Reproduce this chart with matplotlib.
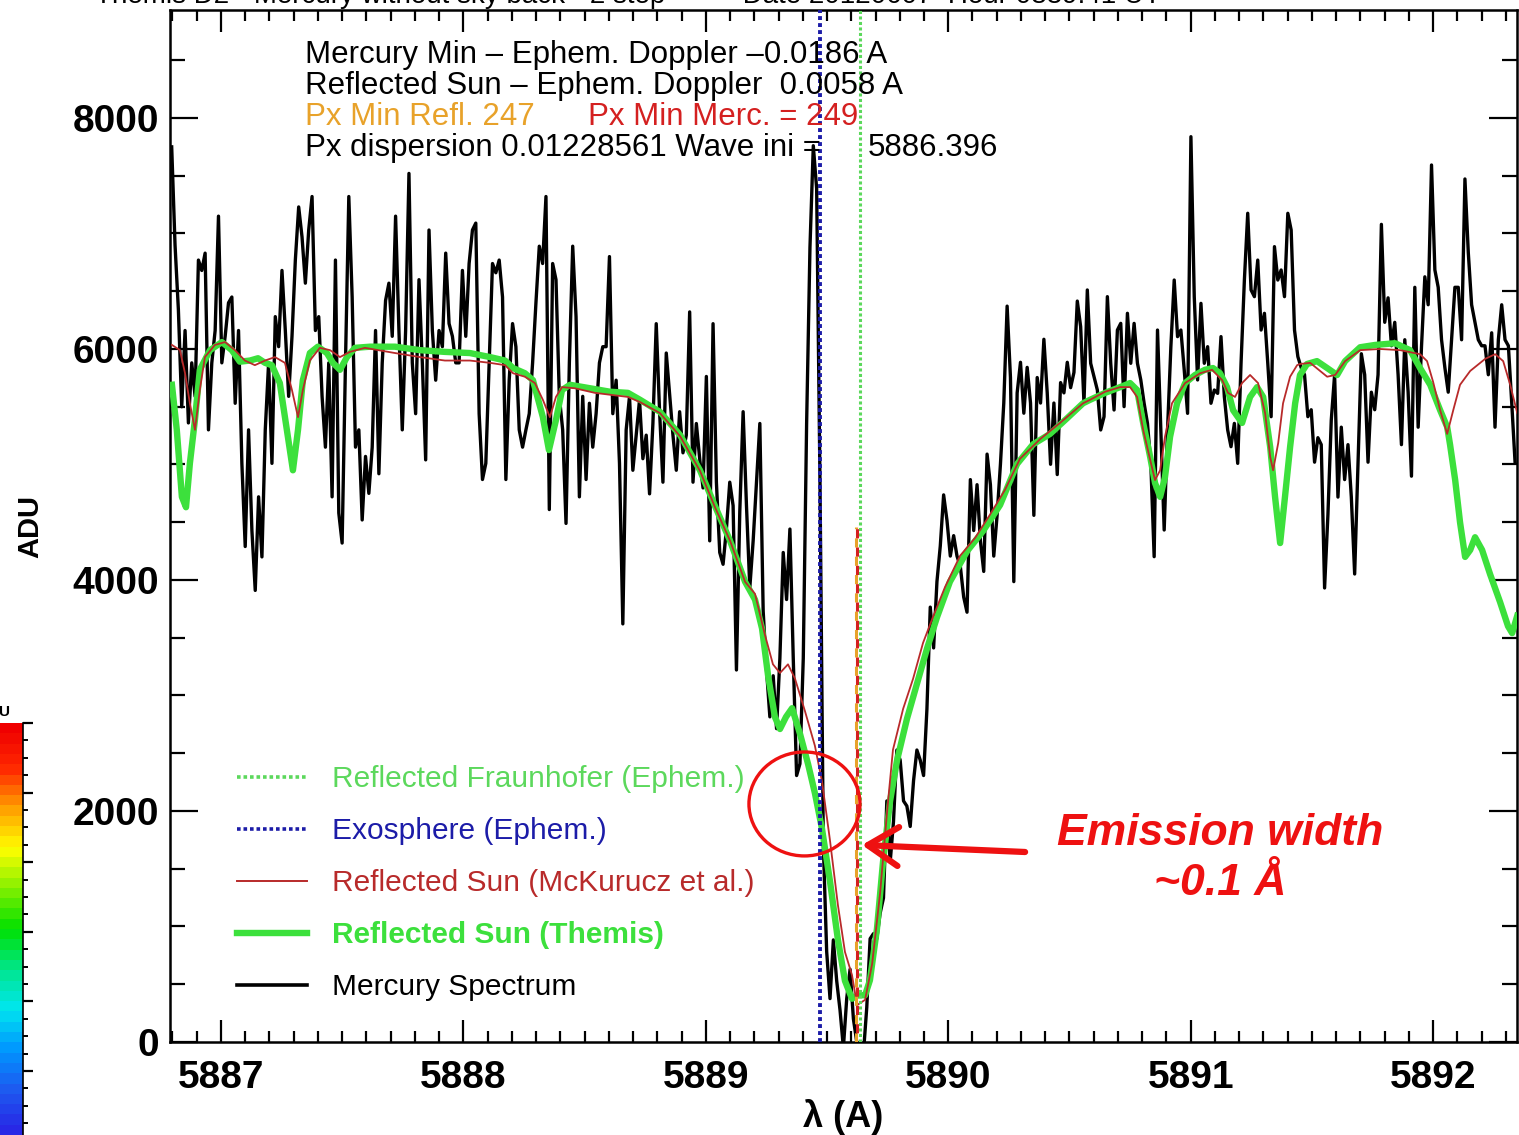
import numpy as np
import matplotlib
matplotlib.use("Agg")
import matplotlib.pyplot as plt
from matplotlib.patches import Ellipse
from matplotlib.lines import Line2D
from matplotlib.colors import LinearSegmentedColormap
from matplotlib.ticker import MultipleLocator

plt.rcParams["font.family"] = ["Liberation Sans", "DejaVu Sans"]

# ---- data ----
# Mercury spectrum (ADU), evenly spaced in wavelength
MERC_LAM_FIRST, MERC_LAM_LAST = 5886.797, 5892.338
mercury_adu = [
    7750, 6900, 6340, 5500, 6160, 5360, 5880, 5590, 6770, 6680,
    6830, 5300, 5880, 6160, 7150, 5880, 6110, 6400, 6450, 5530,
    6160, 5010, 4290, 5300, 4430, 3910, 4720, 4200, 5300, 5880,
    5010, 6280, 6020, 6680, 6160, 5590, 6110, 6770, 7230, 6970,
    6570, 7030, 7320, 6160, 6280, 5590, 5150, 5880, 4720, 6770,
    4580, 4320, 5880, 7320, 6450, 5150, 5300, 4520, 5070, 4750,
    5150, 6160, 4920, 5880, 6420, 6570, 6110, 7150, 6160,
    5300, 6160, 7520, 5880, 5440, 6600, 5880, 5040, 7030, 6160,
    5730, 6160, 6020, 6830, 6220, 6110, 5880, 5880, 6680, 6110,
    6740, 7030, 7090, 5440, 4870, 5010, 5880, 6740, 6660, 6770,
    6450, 4870, 5730, 6220, 6020, 5300, 5150, 5300, 5440, 5880,
    6400, 6890, 6740, 7320, 4610, 6740, 6600, 5590, 5300, 4490,
    5880, 6890, 6280, 4720, 5590, 4870, 5530, 5150, 5440, 5880,
    6020, 6020, 6800, 5440, 5730, 5010, 3620, 5300, 5590,
    4950, 5254, 5559, 5050, 5254, 4746, 5355, 6219, 5457, 4847,
    5965, 5610, 5254, 4950, 5457, 5101, 5254, 6321, 4847, 5355,
    5050, 4797, 5762, 4339, 6219, 4847, 4238, 4136, 4441, 4847,
    4644, 3221, 4593, 5457, 4644, 3933, 4339, 4847, 5355, 3730,
    3221, 2815, 3171, 2713, 3323, 4238, 3831, 4441, 3323, 2307,
    2409, 3323, 5355, 6880, 7760, 7388, 4847, 1700, 783, 376,
    884, 529, 275, -50, 376, 630,
    200, 0, -150, -100, 300, 894, 938, 894, 1115, 1247,
    2087, 1557, 1910, 2528, 2440, 2087, 2043, 1866, 2263, 2528,
    2440, 2307, 2882, 3765, 3412, 3986, 4295, 4737, 4516, 4207,
    4384, 4207, 4118, 3853, 3721, 4869, 4428, 4825, 4340, 4074,
    5090, 4825, 4207, 4560, 5002, 5532, 6371, 5753, 3986, 5620,
    5885, 5444, 5841, 5532, 4560, 5753, 5532, 6084, 5620, 5002,
    5532, 4913, 5709, 5620, 5885, 5665, 5797, 6415, 6194, 5532,
    6511, 5876, 5760, 5645, 5299, 5414, 6453, 5876, 5472, 6164,
    6222, 5501, 6309, 5876, 6222, 5876, 5732, 5530, 5356, 5010,
    4202, 6164, 5299, 4433, 5299, 6020, 6597, 6107, 6164, 5818,
    5443, 7838, 6453, 5732, 6395, 5876, 6020, 5530, 5645, 5616,
    6107, 5587, 5299, 5154, 5356, 5010, 5876, 6597, 7175, 6511,
    6453, 6770, 6164, 6309, 5876, 5414, 6886, 6597, 6684, 6453,
    7175, 7030, 6164, 5934,
    5838, 5777, 5414, 5474, 5020, 5232, 5172, 3931, 4566, 5384,
    5777, 4718, 5323, 4869, 5172, 4718, 4052, 5020, 5959, 5777,
    5020, 5626, 5474, 5777, 7079, 6231, 6443, 6028, 6231, 5777,
    5172, 6080, 5626, 4899, 6534, 5323, 6019, 6625, 6383, 7593,
    6685, 6534, 6080, 5838, 5626, 6080, 6534, 6534, 6080, 7472,
    6837, 6383, 6231, 6080, 6028, 6028, 5777, 6140, 5323, 6080,
    6383, 6080, 6028, 5535, 5020,
]

# Reflected Sun (Themis)
themis_lam = [
    5886.798, 5886.818, 5886.839, 5886.856, 5886.872, 5886.893, 5886.913, 5886.955,
    5887.004, 5887.045, 5887.078, 5887.120, 5887.153, 5887.182, 5887.210, 5887.243,
    5887.272, 5887.297, 5887.318, 5887.338, 5887.367, 5887.400, 5887.437, 5887.462,
    5887.491, 5887.520, 5887.553, 5887.615, 5887.718, 5887.821, 5887.924, 5888.027,
    5888.110, 5888.172, 5888.205, 5888.254, 5888.287, 5888.328, 5888.353, 5888.382,
    5888.407, 5888.440, 5888.522, 5888.605, 5888.679, 5888.729, 5888.811, 5888.894,
    5888.976, 5889.038, 5889.100, 5889.162, 5889.203, 5889.232, 5889.257, 5889.285,
    5889.306, 5889.331, 5889.356, 5889.389, 5889.422, 5889.450, 5889.479, 5889.512,
    5889.545, 5889.574, 5889.603, 5889.628, 5889.657, 5889.677, 5889.706, 5889.731,
    5889.760, 5889.789, 5889.830, 5889.871, 5889.913, 5889.954, 5890.007, 5890.078,
    5890.144, 5890.214, 5890.284, 5890.350, 5890.420, 5890.490, 5890.556, 5890.585,
    5890.647, 5890.709, 5890.750, 5890.779, 5890.804, 5890.833, 5890.853, 5890.874,
    5890.894, 5890.915, 5890.944, 5890.977, 5891.018, 5891.059, 5891.092, 5891.121,
    5891.150, 5891.175, 5891.212, 5891.245, 5891.274, 5891.299, 5891.328, 5891.348,
    5891.369, 5891.389, 5891.410, 5891.431, 5891.451, 5891.480, 5891.521, 5891.563,
    5891.604, 5891.637, 5891.699, 5891.761, 5891.843, 5891.905, 5891.946, 5891.988,
    5892.029, 5892.058, 5892.070, 5892.091, 5892.111, 5892.132, 5892.153, 5892.173,
    5892.202, 5892.235, 5892.276, 5892.309, 5892.326, 5892.347,
]
themis_adu = [
    5690, 5300, 4720, 4630, 5010, 5390, 5820, 5990,
    6060, 5990, 5890, 5900, 5920, 5880, 5860, 5705,
    5300, 4950, 5300, 5730, 5965, 6020, 5965, 5880,
    5820, 5930, 6010, 6020, 6020, 5990, 5975, 5965,
    5930, 5900, 5835, 5790, 5730, 5410, 5125, 5385,
    5645, 5690, 5660, 5630, 5620, 5560, 5455, 5255,
    4950, 4640, 4340, 3985, 3830, 3580, 3170, 2815,
    2710, 2815, 2890, 2665, 2405, 2155, 1850, 1395,
    885, 530, 375, 405, 405, 535, 980, 1560,
    2085, 2440, 2800, 3100, 3410, 3680, 3985, 4250,
    4425, 4650, 5005, 5175, 5265, 5400, 5530, 5560,
    5620, 5670, 5705, 5645, 5360, 5065, 4840, 4720,
    4890, 5240, 5530, 5705, 5775, 5820, 5835, 5790,
    5670, 5470, 5360, 5585, 5670, 5585, 5150, 4720,
    4320, 4720, 5150, 5530, 5775, 5870, 5895, 5835,
    5775, 5895, 6015, 6035, 6050, 5990, 5835, 5690,
    5470, 5325, 5170, 4865, 4500, 4200, 4260, 4370,
    4260, 4050, 3810, 3600, 3540, 3690,
]

# Reflected Sun (Kurucz model)
kurucz_lam = [
    5886.798, 5886.831, 5886.852, 5886.872, 5886.893, 5886.913, 5886.934, 5886.975,
    5887.017, 5887.058, 5887.099, 5887.140, 5887.182, 5887.223, 5887.264, 5887.293,
    5887.318, 5887.338, 5887.367, 5887.408, 5887.450, 5887.491, 5887.532, 5887.594,
    5887.718, 5887.821, 5887.924, 5888.027, 5888.110, 5888.172, 5888.205, 5888.254,
    5888.295, 5888.328, 5888.357, 5888.382, 5888.407, 5888.460, 5888.543, 5888.679,
    5888.729, 5888.811, 5888.894, 5888.976, 5889.038, 5889.100, 5889.162, 5889.203,
    5889.244, 5889.277, 5889.306, 5889.339, 5889.368, 5889.409, 5889.450, 5889.479,
    5889.512, 5889.545, 5889.574, 5889.603, 5889.624, 5889.657, 5889.686, 5889.719,
    5889.748, 5889.772, 5889.814, 5889.855, 5889.896, 5889.937, 5889.987, 5890.049,
    5890.111, 5890.172, 5890.234, 5890.296, 5890.379, 5890.461, 5890.556, 5890.585,
    5890.647, 5890.709, 5890.750, 5890.779, 5890.804, 5890.833, 5890.853, 5890.874,
    5890.894, 5890.923, 5890.977, 5891.039, 5891.088, 5891.130, 5891.154, 5891.183,
    5891.212, 5891.245, 5891.278, 5891.307, 5891.328, 5891.340, 5891.361, 5891.381,
    5891.410, 5891.439, 5891.451, 5891.493, 5891.534, 5891.563, 5891.596, 5891.637,
    5891.699, 5891.781, 5891.864, 5891.946, 5891.975, 5892.000, 5892.029, 5892.058,
    5892.083, 5892.111, 5892.153, 5892.215, 5892.256, 5892.289, 5892.318, 5892.347,
]
kurucz_adu = [
    6035, 5990, 5790, 5530, 5300, 5645, 5930, 6035,
    6060, 5990, 5900, 5860, 5900, 5930, 5880, 5645,
    5410, 5645, 5900, 6010, 5990, 5930, 5975, 6010,
    5965, 5930, 5900, 5900, 5880, 5860, 5790, 5760,
    5705, 5560, 5410, 5585, 5670, 5660, 5620, 5585,
    5540, 5445, 5245, 4945, 4630, 4340, 3985, 3880,
    3525, 3270, 3195, 3270, 3145, 2865, 2565, 2260,
    1750, 1185, 780, 580, 320, 365, 675, 1290,
    2000, 2530, 2885, 3145, 3455, 3680, 3940, 4210,
    4365, 4565, 4780, 5050, 5220, 5360, 5530, 5560,
    5630, 5670, 5670, 5585, 5300, 5040, 4865, 4950,
    5240, 5530, 5705, 5790, 5820, 5730, 5620, 5585,
    5705, 5775, 5705, 5445, 5065, 4950, 5185, 5530,
    5760, 5860, 5870, 5880, 5810, 5760, 5775, 5895,
    5990, 6000, 5990, 5955, 5895, 5715, 5470, 5265,
    5470, 5690, 5810, 5915, 5955, 5895, 5690, 5445,
]

# vertical markers (wavelength) and the pixel-min marker height
LAM_EXO = 5889.471
LAM_FRAUN = 5889.636
LAM_PXMIN_REFL = 5889.620
LAM_PXMIN_MERC = 5889.623
PXMIN_TOP = 4460

# emission-width highlight
ELL_LAM, ELL_ADU, ELL_W, ELL_H = 5889.407, 2061, 0.458, 900
ARROW_FROM = (5890.317, 1645)
ARROW_TO = (5889.644, 1706)
EMIS_LAM, EMIS_ADU = 5891.121, 1590

xticks = [5887, 5888, 5889, 5890, 5891, 5892]
yticks = [0, 2000, 4000, 6000, 8000]

info_lines = [
    "Mercury Min \u2013 Ephem. Doppler \u20130.0186 A",
    "Reflected Sun \u2013 Ephem. Doppler  0.0058 A",
]
px_refl = "Px Min Refl. 247"
px_merc = "Px Min Merc. = 249"
disp_txt = "Px dispersion 0.01228561 Wave ini ="
wave_ini = "5886.396"

# ---- colours ----
C_BLACK = "#000000"
C_GREEN = "#3ce03c"
C_GREEN_DOT = "#5cd85c"
C_BLUE = "#1c1ca8"
C_RED = "#b82a2a"
C_ORANGE = "#e8a22a"
C_PXRED = "#d42020"
C_ANNOT = "#ee1111"

W, H = 1519, 1135
fig = plt.figure(figsize=(W / 100, H / 100), dpi=100)
fig.patch.set_facecolor("white")

ax = fig.add_axes([170 / W, 1 - 1042 / H, 1347 / W, 1032 / H])

lam_merc = np.linspace(MERC_LAM_FIRST, MERC_LAM_LAST, len(mercury_adu))
ax.plot(lam_merc, mercury_adu, color=C_BLACK, lw=2.4, zorder=2)
ax.plot(themis_lam, themis_adu, color=C_GREEN, lw=4.6, solid_joinstyle="round", zorder=3)
ax.plot(kurucz_lam, kurucz_adu, color=C_RED, lw=1.3, zorder=4)

ax.axvline(LAM_EXO, color=C_BLUE, ls=(0, (1, 0.8)), lw=2.8, zorder=5)
ax.axvline(LAM_FRAUN, color=C_GREEN_DOT, ls=(0, (1, 0.8)), lw=2.2, zorder=5)
ax.vlines(LAM_PXMIN_REFL, 0, PXMIN_TOP, color=C_ORANGE, ls=(0, (3, 3)), lw=2.2, zorder=5)
ax.vlines(LAM_PXMIN_MERC, 0, PXMIN_TOP, color=C_PXRED, ls=(3, (3, 3)), lw=2.2, zorder=5)

ax.add_patch(Ellipse((ELL_LAM, ELL_ADU), ELL_W, ELL_H, fill=False,
                     ec=C_ANNOT, lw=2.4, zorder=6))
ax.annotate("", xy=ARROW_TO, xytext=ARROW_FROM,
            arrowprops=dict(arrowstyle="->,head_length=0.55,head_width=0.35",
                            lw=4.5, color=C_ANNOT, shrinkA=0, shrinkB=0,
                            mutation_scale=40), zorder=6)
ax.text(EMIS_LAM, EMIS_ADU, "Emission width\n~0.1 \u00c5", ha="center", va="center",
        color=C_ANNOT, fontsize=32, fontweight="bold", style="italic",
        linespacing=1.3, zorder=6)

ax.set_xlim(5886.790, 5892.346)
ax.set_ylim(0, 8935)
ax.set_xticks(xticks)
ax.set_yticks(yticks)
ax.xaxis.set_minor_locator(MultipleLocator(0.1))
ax.yaxis.set_minor_locator(MultipleLocator(500))
ax.tick_params(which="both", direction="in", top=True, right=True, width=1.6)
ax.tick_params(axis="y", which="major", length=20, pad=8, labelsize=28)
ax.tick_params(axis="y", which="minor", length=10.5)
ax.tick_params(axis="x", which="major", length=16, pad=13, labelsize=28)
ax.tick_params(axis="x", which="minor", length=8)
for lbl in ax.get_xticklabels() + ax.get_yticklabels():
    lbl.set_fontweight("bold")
for sp in ax.spines.values():
    sp.set_linewidth(1.8)

ax.set_xlabel("\u03bb (A)", fontsize=26, fontweight="bold", labelpad=2)
ax.set_ylabel("ADU", fontsize=21, fontweight="bold", labelpad=20)

# legend
handles = [
    Line2D([], [], color=C_GREEN_DOT, ls=(0, (1, 0.8)), lw=2.6),
    Line2D([], [], color=C_BLUE, ls=(0, (1, 0.8)), lw=2.6),
    Line2D([], [], color=C_RED, lw=1.4),
    Line2D([], [], color=C_GREEN, lw=4.6),
    Line2D([], [], color=C_BLACK, lw=2.6),
]
labels = ["Reflected Fraunhofer (Ephem.)", "Exosphere (Ephem.)",
          "Reflected Sun (McKurucz et al.)", "Reflected Sun (Themis)",
          "Mercury Spectrum"]
leg = ax.legend(handles, labels, loc="upper left", bbox_to_anchor=(0.0497, 0.268),
                frameon=False, fontsize=21.5, handlelength=2.35, handletextpad=0.84,
                labelspacing=0.80, borderpad=0, borderaxespad=0,
                labelcolor="linecolor")
leg.get_texts()[3].set_fontweight("bold")

# header text block
fs_info = 22.5
fig.text(305 / W, 1 - 55 / H, info_lines[0], fontsize=fs_info, va="center")
fig.text(305 / W, 1 - 86 / H, info_lines[1], fontsize=fs_info, va="center")
fig.text(305 / W, 1 - 117 / H, px_refl, fontsize=fs_info, va="center", color=C_ORANGE)
fig.text(588 / W, 1 - 117 / H, px_merc, fontsize=fs_info, va="center", color=C_PXRED)
fig.text(305 / W, 1 - 148 / H, disp_txt, fontsize=fs_info, va="center")
fig.text(868 / W, 1 - 148 / H, wave_ini, fontsize=fs_info, va="center")

# title, cut by the top edge as in the source slide
fig.text(95 / W, 1 - 3 / H, "Themis D2 - Mercury without sky back - 2 step"
         "          Date 20120607  Hour 0839:41 UT", fontsize=20, va="baseline")

# cropped colour bar at the far left
cmap = LinearSegmentedColormap.from_list("idl_rainbow", [
    (0.0, "#2828e6"), (0.1, "#1e5af0"), (0.2, "#0096ff"), (0.3, "#00e6f0"),
    (0.4, "#00e68c"), (0.5, "#00e100"), (0.6, "#82f000"), (0.7, "#ffff00"),
    (0.8, "#ffa000"), (0.9, "#ff2800"), (1.0, "#f00000")], N=40)
cax = fig.add_axes([0, 0, 23 / W, (H - 723) / H])
cax.imshow(np.linspace(0, 1, 40)[:, None], aspect="auto", cmap=cmap,
           origin="lower", extent=(0, 1, 24 - (H - 723) / 17.4, 24))
cax.set_ylim(24 - (H - 723) / 17.4, 24)
cax.set_xlim(0, 1)
cax.yaxis.tick_right()
cax.yaxis.set_major_locator(MultipleLocator(4))
cax.yaxis.set_minor_locator(MultipleLocator(1))
cax.tick_params(axis="y", which="major", direction="out", length=7, width=1.6, labelright=False)
cax.tick_params(axis="y", which="minor", direction="out", length=3.5, width=1.4)
cax.set_xticks([])
for side in ("top", "bottom", "left"):
    cax.spines[side].set_visible(False)
cax.spines["right"].set_linewidth(1.2)
fig.text(11 / W, 1 - 712 / H, "ADU", fontsize=11, fontweight="bold", ha="right", va="center")

fig.savefig("out.png", dpi=100)
plt.close(fig)
